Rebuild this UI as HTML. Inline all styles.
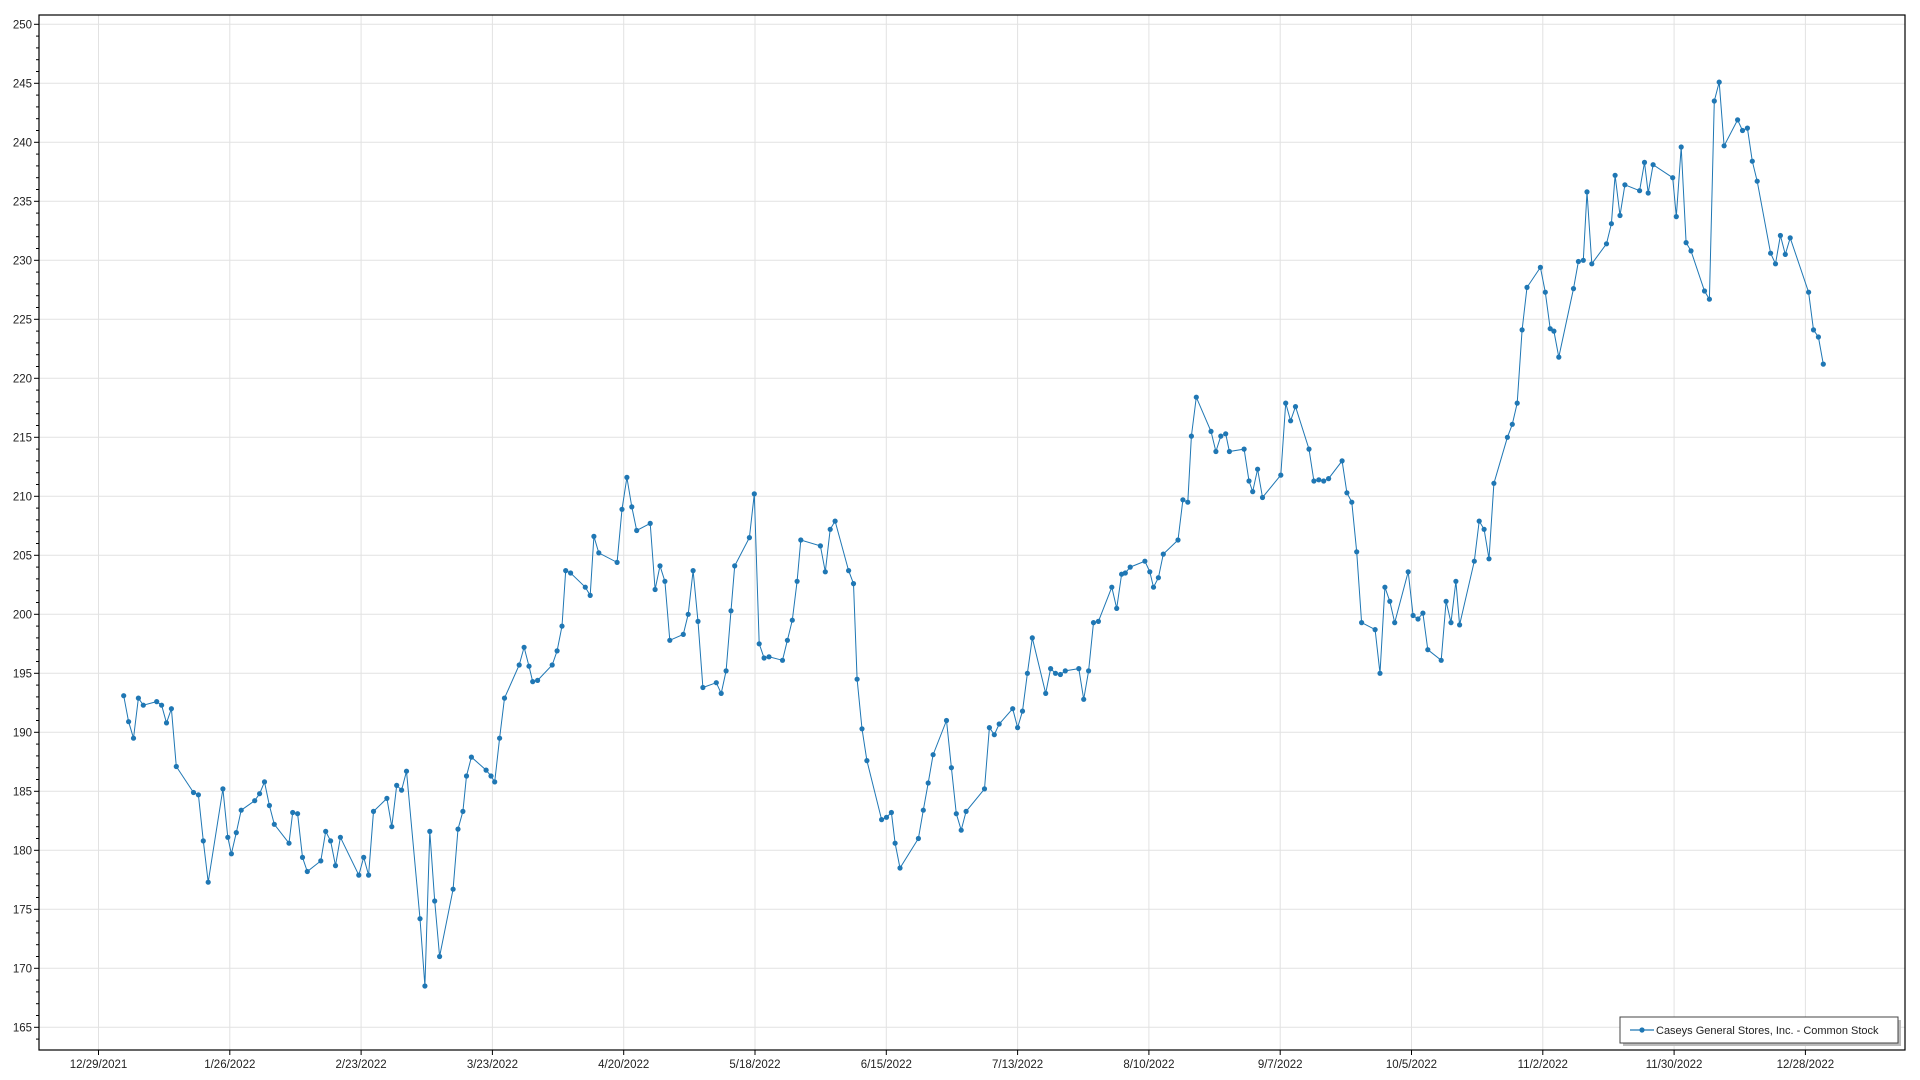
<!DOCTYPE html>
<html><head><meta charset="utf-8"><style>
html,body{margin:0;padding:0;background:#fff;width:1920px;height:1080px;overflow:hidden}
svg{display:block;font-family:"Liberation Sans","DejaVu Sans",sans-serif}
</style></head><body>
<svg id="s" width="1920" height="1080" xmlns="http://www.w3.org/2000/svg"></svg>
<script>
var d=[101,193.1,105,190.9,109,189.5,113,192.9,117,192.3,128,192.6,132,192.3,136,190.8,140,192.0,144,187.1,158,184.9,162,184.7,166,180.8,170,177.3,182,185.2,186,181.1,189,179.7,193,181.5,197,183.4,208,184.2,212,184.8,216,185.8,220,183.8,224,182.2,236,180.6,239,183.2,243,183.1,247,179.4,251,178.2,262,179.1,266,181.6,270,180.8,274,178.7,278,181.1,293,177.9,297,179.4,301,177.9,305,183.3,316,184.4,320,182.0,324,185.5,328,185.1,332,186.7,343,174.2,347,168.5,351,181.6,355,175.7,359,171.0,370,176.7,374,181.8,378,183.3,381,186.3,385,187.9,397,186.8,401,186.3,404,185.8,408,189.5,412,192.9,424,195.7,428,197.2,432,195.6,435,194.3,439,194.4,451,195.7,455,196.9,459,199.0,462,203.7,466,203.5,478,202.3,482,201.6,485,206.6,489,205.2,504,204.4,508,208.9,512,211.6,516,209.1,520,207.1,531,207.7,535,202.1,539,204.1,543,202.8,547,197.8,558,198.3,562,200.0,566,203.7,570,199.4,574,193.8,585,194.2,589,193.3,593,195.2,597,200.3,600,204.1,612,206.5,616,210.2,620,197.5,624,196.3,628,196.4,639,196.1,643,197.8,647,199.5,651,202.8,654,206.3,670,205.8,674,203.6,678,207.2,682,207.9,693,203.7,697,202.6,700,194.5,704,190.3,708,187.6,720,182.6,724,182.8,728,183.2,731,180.6,735,178.5,750,181.0,754,183.4,758,185.7,762,188.1,773,191.0,777,187.0,781,183.1,785,181.7,789,183.3,804,185.2,808,190.4,812,189.8,816,190.7,827,192.0,831,190.4,835,191.8,839,195.0,843,198.0,854,193.3,858,195.4,862,195.0,866,194.9,870,195.2,881,195.4,885,192.8,889,195.2,893,199.3,897,199.4,908,202.3,912,200.5,916,203.4,919,203.5,923,204.0,935,204.5,939,203.6,942,202.3,946,203.1,950,205.1,962,206.3,966,209.7,970,209.5,973,215.1,977,218.4,989,215.5,993,213.8,997,215.1,1001,215.3,1004,213.8,1016,214.0,1020,211.3,1023,210.4,1027,212.3,1031,209.9,1046,211.8,1050,217.9,1054,216.4,1058,217.6,1069,214.0,1073,211.3,1077,211.4,1081,211.3,1085,211.5,1096,213.0,1100,210.3,1104,209.5,1108,205.3,1112,199.3,1123,198.7,1127,195.0,1131,202.3,1135,201.1,1139,199.3,1150,203.6,1154,199.9,1158,199.6,1162,200.1,1166,197.0,1177,196.1,1181,201.1,1185,199.3,1189,202.8,1192,199.1,1204,204.5,1208,207.9,1212,207.2,1216,204.7,1220,211.1,1231,215.0,1235,216.1,1239,217.9,1243,224.1,1247,227.7,1258,229.4,1262,227.3,1266,224.2,1269,224.0,1273,221.8,1285,227.6,1289,229.9,1293,230.0,1296,235.8,1300,229.7,1312,231.4,1316,233.1,1319,237.2,1323,233.8,1327,236.4,1339,235.9,1343,238.3,1346,235.7,1350,238.1,1366,237.0,1369,233.7,1373,239.6,1377,231.5,1381,230.8,1392,227.4,1396,226.7,1400,243.5,1404,245.1,1408,239.7,1419,241.9,1423,241.0,1427,241.2,1431,238.4,1435,236.7,1446,230.6,1450,229.7,1454,232.1,1458,230.5,1462,231.9,1477,227.3,1481,224.1,1485,223.5,1489,221.2];
var L=39,R=1905,T=15,B=1050;
function Y(v){return 24.3+(250-v)*11.8}
var h='';
var labs=['12/29/2021','1/26/2022','2/23/2022','3/23/2022','4/20/2022','5/18/2022','6/15/2022','7/13/2022','8/10/2022','9/7/2022','10/5/2022','11/2/2022','11/30/2022','12/28/2022'];
for(var i=0;i<14;i++){var x=(98.5+i*131.3).toFixed(1);
h+='<line x1="'+x+'" y1="'+T+'" x2="'+x+'" y2="'+B+'" stroke="#e2e2e2"/>';
h+='<line x1="'+x+'" y1="'+B+'" x2="'+x+'" y2="'+(B+5)+'" stroke="#000"/>';
h+='<text x="'+x+'" y="'+(B+18)+'" font-size="11.5" text-anchor="middle" fill="#222">'+labs[i]+'</text>';}
for(var v=164;v<=250;v++){var y=Y(v).toFixed(1);
if(v%5==0){h+='<line x1="'+L+'" y1="'+y+'" x2="'+R+'" y2="'+y+'" stroke="#e2e2e2"/>';
h+='<line x1="'+(L-5)+'" y1="'+y+'" x2="'+L+'" y2="'+y+'" stroke="#000"/>';
h+='<text x="'+(L-7)+'" y="'+(+y+4)+'" font-size="11.5" text-anchor="end" fill="#222">'+v+'</text>';}
else h+='<line x1="'+(L-3)+'" y1="'+y+'" x2="'+L+'" y2="'+y+'" stroke="#000"/>';}
var p='',c='';
for(var i=0;i<d.length;i+=2){var x=(d[i]*1.2245).toFixed(1),y=Y(d[i+1]).toFixed(1);p+=(i?'L':'M')+x+' '+y;c+='<circle cx="'+x+'" cy="'+y+'" r="2.6" fill="#1f77b4"/>';}
h+='<path d="'+p+'" fill="none" stroke="#1f77b4" stroke-width="1"/>'+c;
h+='<rect x="'+L+'" y="'+T+'" width="'+(R-L)+'" height="'+(B-T)+'" fill="none" stroke="#000" stroke-width="1.2"/>';
h+='<rect x="1623" y="1020" width="278" height="26" fill="#bbb"/>';
h+='<rect x="1620" y="1017" width="278" height="26" fill="#fff" stroke="#444" stroke-width="1"/>';
h+='<line x1="1630" y1="1030" x2="1654" y2="1030" stroke="#1f77b4" stroke-width="1.2"/><circle cx="1642" cy="1030" r="2.6" fill="#1f77b4"/>';
h+='<text x="1656" y="1034" font-size="11" fill="#222">Caseys General Stores, Inc. - Common Stock</text>';
document.getElementById('s').innerHTML=h;
</script>
</body></html>
